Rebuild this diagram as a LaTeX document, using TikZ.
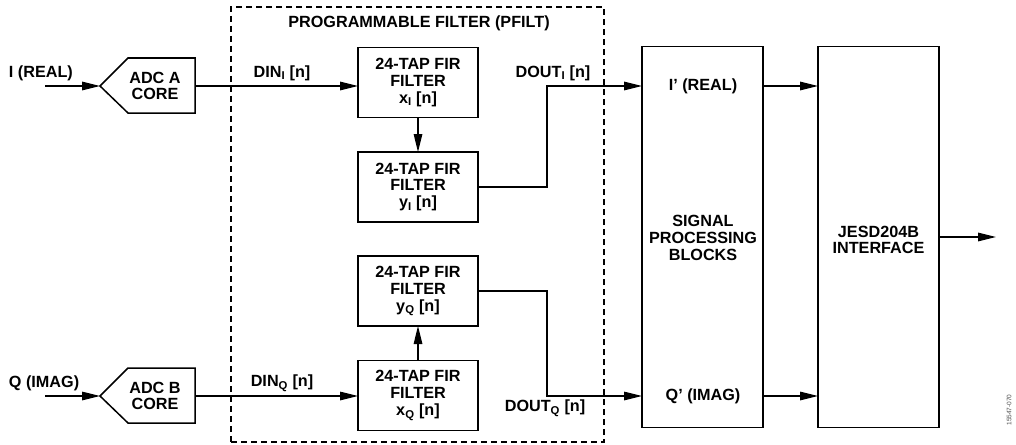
\documentclass[tikz,border=0pt]{standalone}
\usepackage{fontspec}
\setmainfont{Liberation Sans}
\usetikzlibrary{arrows.meta,calc}
\newcommand{\lblfont}{\fontsize{16.2}{16.8}\selectfont\bfseries}
\begin{document}
\begin{tikzpicture}[x=1pt,y=-1pt,
  every node/.style={inner sep=0pt, outer sep=0pt},
  lbl/.style={font=\lblfont, align=center},
  blk/.style={draw, line width=1.5pt, font=\lblfont, align=center, minimum width=120pt},
  firbox/.style={blk, minimum height=70pt},
  tallbox/.style={draw, line width=1.5pt, minimum width=121pt, minimum height=381pt},
  arr/.style={line width=1.3pt, -{Triangle[length=18pt,width=8.5pt]}},
  ln/.style={line width=1.3pt}
]
\useasboundingbox (0,0) rectangle (1016,444);

% programmable filter dashed box
\node[draw, line width=1.5pt, dash pattern=on 6pt off 4pt, minimum width=373pt, minimum height=435pt] (pfilt) at (417.5,224.5) {};
\node[lbl] (ptitle) at (419,23) {PROGRAMMABLE FILTER (PFILT)};

% ADC cores
\draw[line width=1.5pt] (100,86) -- (128,58) -- (195,58) -- (195,113) -- (128,113) -- cycle;
\node[lbl] (adcA) at (155,86) {ADC A\\CORE};
\coordinate (adcAin) at (100,86);
\coordinate (adcAout) at (195,86);
\draw[line width=1.5pt] (100,396) -- (128,368) -- (195,368) -- (195,423) -- (128,423) -- cycle;
\node[lbl] (adcB) at (155,396) {ADC B\\CORE};
\coordinate (adcBin) at (100,396);
\coordinate (adcBout) at (195,396);

% input labels
\node[lbl, anchor=west] (ireal) at (9,73) {I (REAL)};
\node[lbl, anchor=west] (qimag) at (9,383) {Q (IMAG)};
\coordinate (iinL) at (45,86);
\coordinate (qinL) at (45,396);

% FIR boxes
\node[firbox] (firxI) at (418,82.5) {24-TAP FIR\\FILTER\\x\textsubscript{I} [n]};
\node[firbox] (firyI) at (418,187) {24-TAP FIR\\FILTER\\y\textsubscript{I} [n]};
\node[firbox] (firyQ) at (418,291) {24-TAP FIR\\FILTER\\y\textsubscript{Q} [n]};
\node[firbox] (firxQ) at (418,395.5) {24-TAP FIR\\FILTER\\x\textsubscript{Q} [n]};

% signal processing & JESD
\node[tallbox] (spb) at (702.5,237) {};
\node[lbl] (iR) at (703,86) {I’ (REAL)};
\node[lbl] (spbt) at (703,238) {SIGNAL\\PROCESSING\\BLOCKS};
\node[lbl] (qR) at (703,396) {Q’ (IMAG)};
\node[tallbox] (jesd) at (878.5,237) {};
\node[lbl] (jesdt) at (878.5,240) {JESD204B\\INTERFACE};
\coordinate (outR) at (996,237);

% signal labels
\node[lbl] (dinI) at (282,73) {DIN\textsubscript{I} [n]};
\node[lbl] (dinQ) at (282,383) {DIN\textsubscript{Q} [n]};
\node[lbl] (doutI) at (553,73) {DOUT\textsubscript{I} [n]};
\node[lbl] (doutQ) at (545,408) {DOUT\textsubscript{Q} [n]};

% connectors
\draw[arr] (iinL) -- (adcAin);
\draw[arr] (qinL) -- (adcBin);
\draw[arr] (adcAout) -- (adcAout -| firxI.west);
\draw[arr] (adcBout) -- (adcBout -| firxQ.west);
\draw[arr] (firxI.south) -- (firyI.north);
\draw[arr] (firxQ.north) -- (firyQ.south);
\draw[arr] (firyI.east) -- ++(69,0) |- (iR -| spb.west);
\draw[arr] (firyQ.east) -- ++(69,0) |- (qR -| spb.west);
\draw[arr] (iR -| spb.east) -- (iR -| jesd.west);
\draw[arr] (qR -| spb.east) -- (qR -| jesd.west);
\draw[arr] (jesd.east) -- (outR);

% figure id
\node[font=\fontsize{6.5}{7}\selectfont, text=black!70, rotate=90] (figid) at (1009,410) {15547-070};
\end{tikzpicture}
\end{document}
